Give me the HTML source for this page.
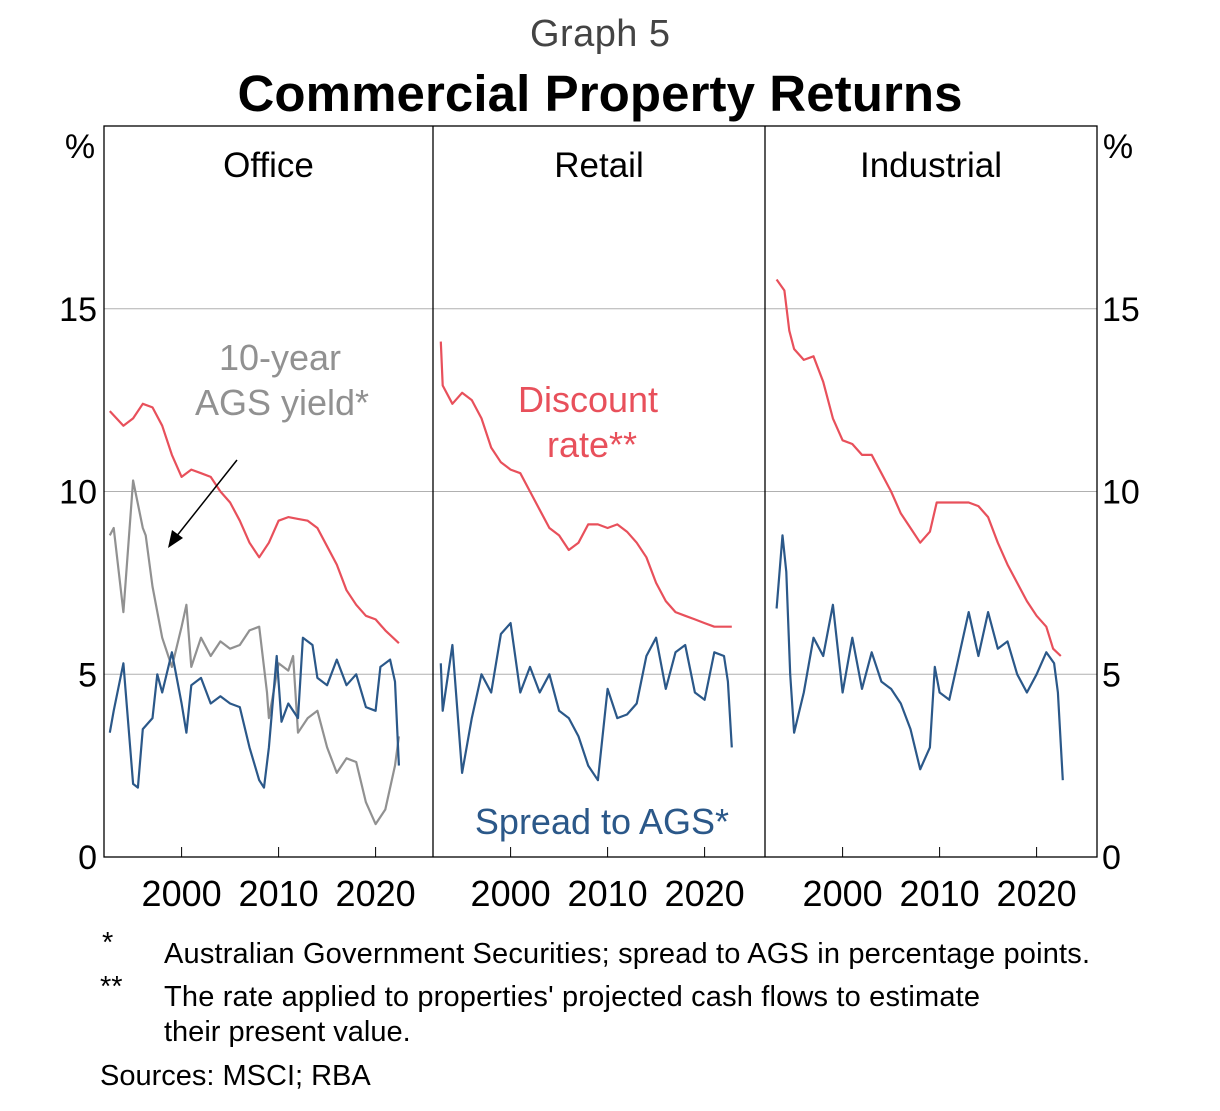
<!DOCTYPE html>
<html><head><meta charset="utf-8"><style>
body{margin:0;background:#fff;width:1220px;height:1106px;overflow:hidden;font-family:"Liberation Sans",sans-serif}
svg text{font-family:"Liberation Sans",sans-serif}
</style></head><body>
<svg width="1220" height="1106" id="c">
<text x="600" y="46" text-anchor="middle" font-size="38" fill="#444" textLength="140">Graph 5</text>
<text x="600" y="111" text-anchor="middle" font-size="51" font-weight="bold" textLength="725">Commercial Property Returns</text>
<text x="80" y="158" text-anchor="middle" font-size="34">%</text>
<text x="1118" y="158" text-anchor="middle" font-size="34">%</text>
<g id="g"></g>
<text x="102" y="952" font-size="29">*</text>
<text x="164" y="963" font-size="29" textLength="926">Australian Government Securities; spread to AGS in percentage points.</text>
<text x="100" y="996" font-size="29">**</text>
<text x="164" y="1006" font-size="29" textLength="816">The rate applied to properties' projected cash flows to estimate</text>
<text x="164" y="1041" font-size="29">their present value.</text>
<text x="100" y="1085" font-size="29">Sources: MSCI; RBA</text>
</svg>
<script>
const panels=["Office","Retail","Industrial"];
const yTicks=[0,5,10,15];
const xTicks=[2000,2010,2020];
const officeDiscYears=[1992.6,1994,1995,1996,1997,1998,1999,2000,2001,2002,2003,2004,2005,2006,2007,2008,2009,2010,2011,2012,2013,2014,2015,2016,2017,2018,2019,2020,2021,2022.4];
const officeDisc=[12.2,11.8,12.0,12.4,12.3,11.8,11.0,10.4,10.6,10.5,10.4,10.0,9.7,9.2,8.6,8.2,8.6,9.2,9.3,9.25,9.2,9.0,8.5,8.0,7.3,6.9,6.6,6.5,6.2,5.85];
const officeAgsYears=[1992.6,1993,1994,1995,1996,1996.3,1997,1998,1999,2000,2000.5,2001,2002,2003,2004,2005,2006,2007,2008,2008.8,2009,2010,2011,2011.5,2012,2013,2014,2015,2016,2017,2018,2019,2020,2021,2022,2022.4];
const officeAgs=[8.8,9.0,6.7,10.3,9.0,8.8,7.4,6.0,5.2,6.3,6.9,5.2,6.0,5.5,5.9,5.7,5.8,6.2,6.3,4.5,3.8,5.3,5.1,5.5,3.4,3.8,4.0,3.0,2.3,2.7,2.6,1.5,0.9,1.3,2.5,3.3];
const officeSprYears=[1992.6,1993,1994,1995,1995.5,1996,1997,1997.5,1998,1999,2000,2000.5,2001,2002,2003,2004,2005,2006,2007,2008,2008.5,2009,2009.8,2010.3,2011,2012,2012.5,2013.5,2014,2015,2016,2017,2018,2019,2020,2020.5,2021.5,2022,2022.4];
const officeSpr=[3.4,4.0,5.3,2.0,1.9,3.5,3.8,5.0,4.5,5.6,4.2,3.4,4.7,4.9,4.2,4.4,4.2,4.1,3.0,2.1,1.9,3.0,5.5,3.7,4.2,3.8,6.0,5.8,4.9,4.7,5.4,4.7,5.0,4.1,4.0,5.2,5.4,4.8,2.5];
const retailDiscYears=[1992.8,1993,1994,1995,1996,1997,1998,1999,2000,2001,2002,2003,2004,2005,2006,2007,2008,2009,2010,2011,2012,2013,2014,2015,2016,2017,2018,2019,2020,2021,2022.8];
const retailDisc=[14.1,12.9,12.4,12.7,12.5,12.0,11.2,10.8,10.6,10.5,10.0,9.5,9.0,8.8,8.4,8.6,9.1,9.1,9.0,9.1,8.9,8.6,8.2,7.5,7.0,6.7,6.6,6.5,6.4,6.3,6.3];
const retailSprYears=[1992.8,1993,1994,1995,1996,1997,1998,1999,2000,2001,2002,2003,2004,2005,2006,2007,2008,2009,2010,2011,2012,2013,2014,2015,2016,2017,2018,2019,2020,2021,2022,2022.4,2022.8];
const retailSpr=[5.3,4.0,5.8,2.3,3.8,5.0,4.5,6.1,6.4,4.5,5.2,4.5,5.0,4.0,3.8,3.3,2.5,2.1,4.6,3.8,3.9,4.2,5.5,6.0,4.6,5.6,5.8,4.5,4.3,5.6,5.5,4.8,3.0];
const indDiscYears=[1993.2,1994,1994.5,1995,1996,1997,1998,1999,2000,2001,2002,2003,2004,2005,2006,2007,2008,2009,2009.7,2011,2013,2014,2015,2016,2017,2018,2019,2020,2021,2021.7,2022.5];
const indDisc=[15.8,15.5,14.4,13.9,13.6,13.7,13.0,12.0,11.4,11.3,11.0,11.0,10.5,10.0,9.4,9.0,8.6,8.9,9.7,9.7,9.7,9.6,9.3,8.6,8.0,7.5,7.0,6.6,6.3,5.7,5.5];
const indSprYears=[1993.2,1993.8,1994.2,1994.6,1995,1996,1997,1998,1999,2000,2001,2002,2003,2004,2005,2006,2007,2008,2009,2009.5,2010,2011,2012,2013,2014,2015,2016,2017,2018,2019,2020,2021,2021.8,2022.2,2022.7];
const indSpr=[6.8,8.8,7.8,5.0,3.4,4.5,6.0,5.5,6.9,4.5,6.0,4.6,5.6,4.8,4.6,4.2,3.5,2.4,3.0,5.2,4.5,4.3,5.5,6.7,5.5,6.7,5.7,5.9,5.0,4.5,5.0,5.6,5.3,4.5,2.1];

const NS="http://www.w3.org/2000/svg",g=document.getElementById('g');
const L=104,R=1097,T=126,B=857,pl=[104,433,765,1097];
const y=v=>B-(v/20)*(B-T);
const xf=(p,yr)=>pl[p]+(yr-1992)*9.7;
function mk(t,a){const e=document.createElementNS(NS,t);for(const k in a)e.setAttribute(k,a[k]);g.appendChild(e);return e;}
yTicks.forEach(v=>{if(v>0){const l=mk('line',{x1:L,x2:R,y1:y(v),y2:y(v),stroke:'#b0b0b0','stroke-width':1});

}
const a=mk('text',{x:97,y:y(v)+12,'text-anchor':'end','font-size':34});a.textContent=v;


const b=mk('text',{x:1102,y:y(v)+12,'font-size':34});b.textContent=v;

});
panels.forEach((n,p)=>{const t=mk('text',{x:(pl[p]+pl[p+1])/2,y:177,'text-anchor':'middle','font-size':35});t.textContent=n;


xTicks.forEach(yr=>{const X=xf(p,yr);const k=mk('line',{x1:X,x2:X,y1:B,y2:B-10,stroke:'#000'});


const s=mk('text',{x:X,y:906,'text-anchor':'middle','font-size':36});s.textContent=yr;

});
if(p>0){const d=mk('line',{x1:pl[p],x2:pl[p],y1:T,y2:B,stroke:'#000','stroke-width':1.3});

}});
const fr=mk('rect',{x:L,y:T,width:R-L,height:B-T,fill:'none',stroke:'#000','stroke-width':1.3});


function line(p,xs,vs,c,name){const d=xs.map((yr,i)=>(i?'L':'M')+xf(p,yr).toFixed(1)+','+y(vs[i]).toFixed(1)).join('');
const e=mk('path',{d:d,fill:'none',stroke:c,'stroke-width':2.2,'stroke-linejoin':'round'});

}
const RED='#e8505b',BLU='#2b5889',GRY='#919191';
line(0,officeAgsYears,officeAgs,GRY,'office-ags-yield-line');
line(0,officeDiscYears,officeDisc,RED,'office-discount-rate-line');
line(0,officeSprYears,officeSpr,BLU,'office-spread-line');
line(1,retailDiscYears,retailDisc,RED,'retail-discount-rate-line');
line(1,retailSprYears,retailSpr,BLU,'retail-spread-line');
line(2,indDiscYears,indDisc,RED,'industrial-discount-rate-line');
line(2,indSprYears,indSpr,BLU,'industrial-spread-line');
function lab(x,yy,s,c,name){const t=mk('text',{x:x,y:yy,'text-anchor':'middle','font-size':36,fill:c});t.textContent=s;

}
lab(280,370,'10-year',GRY,'ags-label-line1');
lab(282,415,'AGS yield*',GRY,'ags-label-line2');
lab(588,412,'Discount',RED,'discount-label-line1');
lab(592,457,'rate**',RED,'discount-label-line2');
lab(602,834,'Spread to AGS*',BLU,'spread-label');
const ar=mk('line',{x1:237,y1:460,x2:172,y2:542,stroke:'#000','stroke-width':1.5});


const ah=mk('polygon',{points:'168,548 172,530 183,538',fill:'#000'});


</script>
</body></html>
